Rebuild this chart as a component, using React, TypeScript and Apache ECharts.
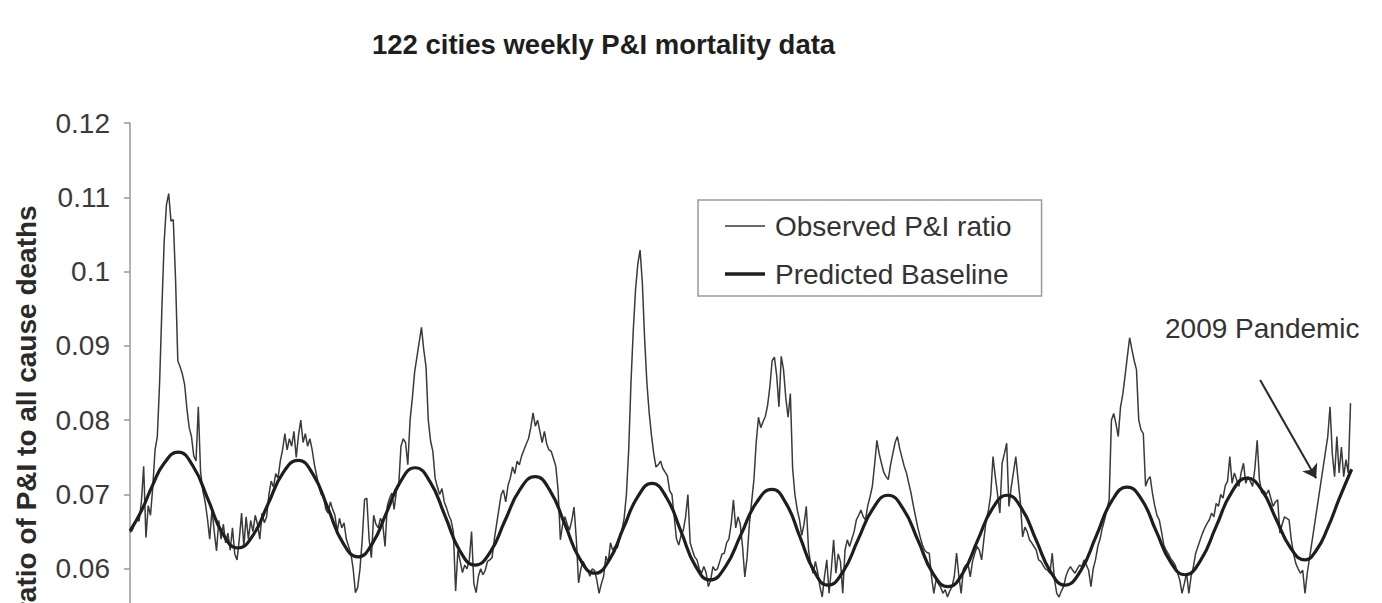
import React, { useEffect, useRef } from "react";
import * as echarts from "echarts";

const FONT = '"Liberation Sans", Arial, Helvetica, sans-serif';

const chartTitle = "122 cities weekly P&I mortality data";
const yAxisTitle = "ratio of P&I to all cause deaths";
const observedName = "Observed P&I ratio";
const baselineName = "Predicted Baseline";
const pandemicLabel = "2009 Pandemic";

// Weekly observed P&I ratio, week index 0..536
const observedWeeks000to099 = [
  0.0649, 0.0652, 0.0660, 0.0668, 0.0664, 0.0690, 0.0738, 0.0642, 0.0685, 0.0672,
  0.0710, 0.0760, 0.0778, 0.0850, 0.0950, 0.1040, 0.1090, 0.1105, 0.1068, 0.1070,
  0.0990, 0.0880, 0.0872, 0.0862, 0.0848, 0.0815, 0.0790, 0.0778, 0.0752, 0.0745,
  0.0818, 0.0730, 0.0705, 0.0690, 0.0668, 0.0640, 0.0680, 0.0650, 0.0624, 0.0665,
  0.0640, 0.0660, 0.0635, 0.0648, 0.0625, 0.0655, 0.0620, 0.0612, 0.0640, 0.0675,
  0.0630, 0.0670, 0.0640, 0.0665, 0.0650, 0.0672, 0.0660, 0.0640, 0.0675, 0.0662,
  0.0670, 0.0700, 0.0718, 0.0710, 0.0728, 0.0722, 0.0745, 0.0760, 0.0782, 0.0760,
  0.0775, 0.0765, 0.0785, 0.0750, 0.0780, 0.0800, 0.0770, 0.0782, 0.0765, 0.0775,
  0.0760, 0.0740, 0.0725, 0.0710, 0.0700, 0.0698, 0.0680, 0.0675, 0.0690, 0.0680,
  0.0672, 0.0650, 0.0668, 0.0655, 0.0662, 0.0640, 0.0630, 0.0621, 0.0600, 0.0568,
];
const observedWeeks100to199 = [
  0.0575, 0.0600, 0.0640, 0.0693, 0.0695, 0.0640, 0.0615, 0.0672, 0.0660, 0.0655,
  0.0668, 0.0660, 0.0630, 0.0685, 0.0695, 0.0702, 0.0680, 0.0705, 0.0712, 0.0765,
  0.0775, 0.0770, 0.0740, 0.0800, 0.0830, 0.0865, 0.0885, 0.0905, 0.0925, 0.0895,
  0.0872, 0.0800, 0.0772, 0.0758, 0.0722, 0.0710, 0.0700, 0.0708, 0.0690, 0.0682,
  0.0672, 0.0665, 0.0650, 0.0570, 0.0625, 0.0610, 0.0595, 0.0605, 0.0600, 0.0612,
  0.0650, 0.0580, 0.0568, 0.0590, 0.0600, 0.0592, 0.0598, 0.0610, 0.0612, 0.0615,
  0.0640, 0.0660, 0.0680, 0.0700, 0.0706, 0.0690, 0.0712, 0.0722, 0.0737, 0.0728,
  0.0745, 0.0740, 0.0752, 0.0760, 0.0768, 0.0775, 0.0790, 0.0810, 0.0792, 0.0800,
  0.0785, 0.0770, 0.0785, 0.0768, 0.0760, 0.0758, 0.0748, 0.0738, 0.0706, 0.0639,
  0.0660, 0.0670, 0.0660, 0.0652, 0.0665, 0.0683, 0.0640, 0.0581, 0.0600, 0.0610,
];
const observedWeeks200to299 = [
  0.0603, 0.0598, 0.0590, 0.0600, 0.0598, 0.0585, 0.0567, 0.0580, 0.0590, 0.0617,
  0.0608, 0.0635, 0.0625, 0.0630, 0.0628, 0.0640, 0.0652, 0.0668, 0.0700, 0.0760,
  0.0850, 0.0920, 0.0975, 0.1010, 0.1029, 0.0985, 0.0910, 0.0850, 0.0810, 0.0780,
  0.0755, 0.0737, 0.0740, 0.0745, 0.0735, 0.0730, 0.0725, 0.0705, 0.0700, 0.0670,
  0.0640, 0.0632, 0.0645, 0.0652, 0.0670, 0.0700, 0.0635, 0.0625, 0.0616, 0.0612,
  0.0600, 0.0594, 0.0603, 0.0595, 0.0576, 0.0585, 0.0603, 0.0598, 0.0600, 0.0610,
  0.0620, 0.0621, 0.0635, 0.0640, 0.0660, 0.0693, 0.0655, 0.0670, 0.0660, 0.0630,
  0.0589, 0.0615, 0.0660, 0.0690, 0.0720, 0.0770, 0.0804, 0.0790, 0.0798, 0.0805,
  0.0820, 0.0845, 0.0880, 0.0885, 0.0860, 0.0818, 0.0886, 0.0868, 0.0830, 0.0804,
  0.0836, 0.0735, 0.0700, 0.0680, 0.0666, 0.0645, 0.0660, 0.0684, 0.0625, 0.0605,
];
const observedWeeks300to399 = [
  0.0594, 0.0610, 0.0595, 0.0576, 0.0562, 0.0590, 0.0612, 0.0567, 0.0600, 0.0639,
  0.0594, 0.0620, 0.0610, 0.0567, 0.0625, 0.0639, 0.0630, 0.0640, 0.0650, 0.0666,
  0.0672, 0.0679, 0.0670, 0.0666, 0.0685, 0.0697, 0.0711, 0.0740, 0.0773, 0.0755,
  0.0742, 0.0730, 0.0724, 0.0720, 0.0740, 0.0755, 0.0770, 0.0778, 0.0762, 0.0750,
  0.0738, 0.0729, 0.0715, 0.0702, 0.0685, 0.0670, 0.0655, 0.0643, 0.0632, 0.0625,
  0.0622, 0.0621, 0.0589, 0.0567, 0.0585, 0.0580, 0.0575, 0.0567, 0.0572, 0.0562,
  0.0570, 0.0576, 0.0590, 0.0621, 0.0590, 0.0567, 0.0600, 0.0605, 0.0607, 0.0589,
  0.0610, 0.0621, 0.0630, 0.0625, 0.0612, 0.0640, 0.0666, 0.0679, 0.0700, 0.0751,
  0.0724, 0.0700, 0.0675, 0.0742, 0.0755, 0.0769, 0.0684, 0.0710, 0.0730, 0.0751,
  0.0720, 0.0690, 0.0643, 0.0656, 0.0650, 0.0639, 0.0635, 0.0630, 0.0625, 0.0612,
];
const observedWeeks400to499 = [
  0.0610, 0.0605, 0.0600, 0.0598, 0.0594, 0.0621, 0.0585, 0.0567, 0.0562, 0.0570,
  0.0576, 0.0590, 0.0598, 0.0603, 0.0598, 0.0594, 0.0600, 0.0605, 0.0603, 0.0612,
  0.0605, 0.0598, 0.0576, 0.0600, 0.0612, 0.0630, 0.0640, 0.0655, 0.0666, 0.0680,
  0.0693, 0.0800, 0.0809, 0.0795, 0.0778, 0.0818, 0.0835, 0.0860, 0.0886, 0.0911,
  0.0895, 0.0880, 0.0868, 0.0800, 0.0787, 0.0782, 0.0711, 0.0720, 0.0724, 0.0702,
  0.0685, 0.0672, 0.0666, 0.0650, 0.0632, 0.0625, 0.0620, 0.0614, 0.0610, 0.0605,
  0.0595, 0.0585, 0.0567, 0.0580, 0.0594, 0.0567, 0.0590, 0.0603, 0.0621, 0.0630,
  0.0639, 0.0648, 0.0655, 0.0661, 0.0666, 0.0675, 0.0670, 0.0688, 0.0684, 0.0700,
  0.0695, 0.0712, 0.0718, 0.0751, 0.0715, 0.0729, 0.0720, 0.0711, 0.0730, 0.0742,
  0.0715, 0.0724, 0.0718, 0.0711, 0.0735, 0.0773, 0.0720, 0.0702, 0.0705, 0.0700,
];
const observedWeeks500to536 = [
  0.0706, 0.0695, 0.0684, 0.0690, 0.0693, 0.0648, 0.0660, 0.0670, 0.0668, 0.0666,
  0.0639, 0.0620, 0.0607, 0.0600, 0.0594, 0.0598, 0.0567, 0.0594, null, null,
  null, null, null, null, null, null, 0.0778, 0.0818, 0.0755, 0.0724,
  0.0778, 0.0729, 0.0764, 0.0724, 0.0747, 0.0729, 0.0823,
];

// Predicted baseline, read at its peaks, troughs and quarter points
const baselineWeeks = [
  0, 5, 10, 15, 21.1, 27.7, 34.3, 40.8, 47.4, 54.0, 60.6, 67.2, 73.8, 80.4, 87.0, 93.5,
  100.1, 106.4, 112.7, 118.9, 125.2, 131.8, 138.4, 144.9, 151.5, 158.1, 164.7, 171.3,
  177.9, 184.5, 191.1, 197.6, 204.2, 210.5, 216.7, 223.0, 229.2, 235.6, 242.0, 248.3,
  254.7, 261.5, 268.3, 275.1, 281.9, 288.1, 294.2, 300.4, 306.5, 313.1, 319.7, 326.3,
  332.9, 339.5, 346.1, 352.6, 359.2, 365.7, 372.2, 378.7, 385.2, 391.6, 397.9, 404.3,
  410.6, 417.4, 424.3, 431.1, 437.9, 444.3, 450.6, 457.0, 463.3, 470.1, 477.0, 483.8,
  490.6, 497.0, 503.3, 509.7, 516.0, 521.0, 526.0, 531.0, 536.5,
];
const baselineValues = [
  0.0651, 0.0678, 0.0713, 0.0742, 0.0757, 0.0738, 0.0693, 0.0647, 0.0628, 0.0645, 0.0687, 0.0729, 0.0746, 0.0727, 0.0681, 0.0635,
  0.0616, 0.0634, 0.0676, 0.0718, 0.0736, 0.0717, 0.0671, 0.0624, 0.0605, 0.0622, 0.0665, 0.0707,
  0.0724, 0.0705, 0.0659, 0.0613, 0.0594, 0.0612, 0.0655, 0.0697, 0.0715, 0.0696, 0.0650, 0.0604,
  0.0585, 0.0603, 0.0646, 0.0689, 0.0707, 0.0688, 0.0643, 0.0597, 0.0578, 0.0596, 0.0639, 0.0681,
  0.0699, 0.0681, 0.0638, 0.0594, 0.0576, 0.0594, 0.0638, 0.0681, 0.0699, 0.0681, 0.0639, 0.0596,
  0.0578, 0.0597, 0.0644, 0.0691, 0.0710, 0.0693, 0.0651, 0.0609, 0.0592, 0.0611, 0.0657, 0.0703,
  0.0722, 0.0706, 0.0667, 0.0628, 0.0612, 0.0625, 0.0655, 0.0694, 0.0734,
];

// Annotation arrow ends, in [week, ratio]
const pandemicArrowFrom = [496.3, 0.0854];
const pandemicArrowTo = [520.9, 0.0722];

export default function App() {
  const ref = useRef<HTMLDivElement>(null);

  useEffect(() => {
    if (!ref.current) return;
    const chart = echarts.init(ref.current, null, { renderer: "svg" });
    const observed = ([] as (number | null)[]).concat(
      observedWeeks000to099,
      observedWeeks100to199,
      observedWeeks200to299,
      observedWeeks300to399,
      observedWeeks400to499,
      observedWeeks500to536
    );
    const observedData = observed.map((v, i) => [i, v]);
    const baselineData = baselineWeeks.map((w, i) => [w, baselineValues[i]]);

    chart.setOption({
      animation: false,
      backgroundColor: "#ffffff",
      textStyle: { fontFamily: FONT },
      title: {
        text: chartTitle,
        left: 372,
        top: 30,
        padding: 0,
        textStyle: { fontSize: 27.5, fontWeight: "bold", color: "#1e1e1e", fontFamily: FONT },
      },
      legend: {
        orient: "vertical",
        left: 698,
        top: 200,
        padding: [12, 30, 8, 27],
        itemGap: 20,
        itemWidth: 40,
        itemHeight: 14,
        borderColor: "#9a9a9a",
        borderWidth: 1.5,
        textStyle: { fontSize: 28, color: "#333", fontFamily: FONT, padding: [0, 0, 0, 5] },
        data: [
          { name: observedName, icon: "path://M0,0h40v1.6h-40z" },
          { name: baselineName, icon: "path://M0,0h40v3.4h-40z" },
        ],
      },
      grid: { left: 130, top: 123, width: 1222.8, height: 594.4 },
      xAxis: {
        type: "value",
        min: 0,
        max: 537,
        axisLine: { show: true, onZero: false, lineStyle: { color: "#999" } },
        axisTick: { show: false },
        axisLabel: { show: false },
        splitLine: { show: false },
      },
      yAxis: {
        type: "value",
        min: 0.04,
        max: 0.12,
        interval: 0.01,
        name: yAxisTitle,
        nameLocation: "middle",
        nameGap: 90,
        nameTextStyle: {
          fontSize: 28,
          fontWeight: "bold",
          color: "#2a2a2a",
          fontFamily: FONT,
          padding: [0, 0, 0, 22],
        },
        axisLine: { show: true, lineStyle: { color: "#999", width: 1.5 } },
        axisTick: { show: true, length: 6, lineStyle: { color: "#999", width: 1.5 } },
        axisLabel: {
          fontSize: 28,
          color: "#3a3a3a",
          margin: 20,
          fontFamily: FONT,
          // ticks below 0.06 fall outside the visible frame
          formatter: (v: number) => (v < 0.0595 ? "" : String(Math.round(v * 100) / 100)),
        },
        splitLine: { show: false },
      },
      series: [
        {
          name: observedName,
          type: "line",
          data: observedData,
          showSymbol: false,
          symbol: "none",
          connectNulls: true,
          z: 2,
          itemStyle: { color: "#3a3a3a" },
          lineStyle: { color: "#3a3a3a", width: 1.5 },
          markLine: {
            silent: true,
            symbol: ["none", "arrow"],
            symbolSize: 13,
            label: { show: false },
            lineStyle: { color: "#2a2a2a", width: 2, type: "solid" },
            data: [[{ coord: pandemicArrowFrom }, { coord: pandemicArrowTo }]],
          },
        },
        {
          name: baselineName,
          type: "line",
          data: baselineData,
          showSymbol: false,
          symbol: "none",
          smooth: true,
          z: 3,
          itemStyle: { color: "#1e1e1e" },
          lineStyle: { color: "#1e1e1e", width: 3.2 },
        },
      ],
      graphic: [
        {
          type: "text",
          x: 1165,
          y: 328,
          style: {
            text: pandemicLabel,
            font: `28px ${FONT}`,
            fill: "#333",
            verticalAlign: "middle",
          },
        },
      ],
    });

    return () => chart.dispose();
  }, []);

  return (
    <div
      style={{
        position: "fixed",
        left: 0,
        top: 0,
        width: 1382,
        height: 603,
        overflow: "hidden",
        background: "#fff",
      }}
    >
      <div ref={ref} style={{ width: 1382, height: 760 }} />
    </div>
  );
}
